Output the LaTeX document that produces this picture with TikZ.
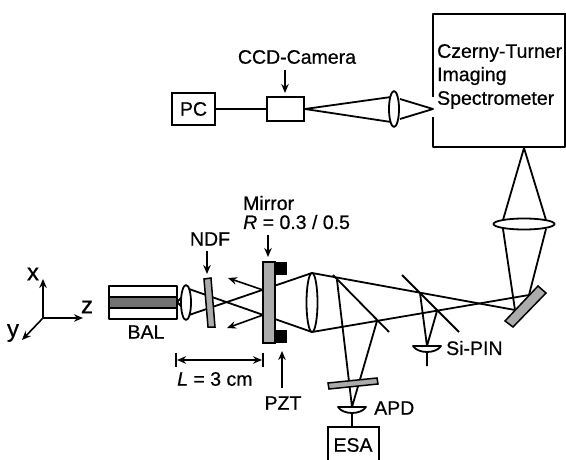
\documentclass[tikz,border=0pt]{standalone}
\usepackage{fontspec}
\setmainfont[RawFeature={embolden=0.6}]{Liberation Sans}
\usetikzlibrary{arrows.meta}
\tikzset{beam/.style={line width=1.8pt,line join=round}}
\tikzset{lens/.style={beam,fill=white}}
\tikzset{plate/.style={line width=1.5pt,fill=black!33}}
\tikzset{pointer/.style={line width=1.6pt,->,>={Stealth[length=9pt,width=7.5pt]}}}
\tikzset{box/.style={draw,line width=1.8pt,inner sep=0pt}}
\tikzset{lbl/.style={inner sep=0pt,font=\fontsize{19.5}{22}\selectfont}}
\tikzset{axlbl/.style={inner sep=0pt,font=\fontsize{24}{26}\selectfont}}

\begin{document}
\begin{tikzpicture}[x=1pt,y=-1pt,line cap=butt]
	\useasboundingbox (0,0) rectangle (566,460);

	% spectrometer, with its entrance slit
	\draw[beam] (433,97) -- (433,14) -- (565,14) -- (565,147) -- (433,147) -- (433,117);
	\draw[line width=2.6pt] (433,14) -- (566,14);
	\node (czerny) [lbl,anchor=west] at (437,53) {Czerny-Turner};
	\node (imaging) [lbl,anchor=west] at (437,76) {Imaging};
	\node (spectro) [lbl,anchor=west] at (437,100) {Spectrometer};

	% camera arm
	\node (pc) [box,minimum width=43pt,minimum height=32pt,lbl] at (193.5,109) {PC};
	\node (ccd) [box,minimum width=37pt,minimum height=24pt] at (285.5,109) {};
	\node (ccdlabel) [lbl] at (297,57) {CCD-Camera};
	\draw[beam] (pc) -- (ccd);
	\draw[pointer] (285,70) -- (285,93);
	\draw[beam] (391,97) -- (ccd.east) -- (391,122);
	\draw[beam] (400,99) -- (433,109) -- (400,119);
	\draw[lens] (394,109) ellipse (5 and 18);

	% lens under the spectrometer and the turning mirror
	\draw[beam] (503,220) -- (524,148) -- (546,220);
	\draw[lens] (524,224) ellipse (30.5 and 5.5);
	\draw[beam] (503,229) -- (515,310);
	\draw[beam] (546,229) -- (529,295);
	\draw[plate] (505,321) -- (513,327) -- (546,293) -- (538,286) -- cycle;

	% main beam
	\draw[beam] (189,315) -- (312,273) -- (515,310);
	\draw[beam] (189,289) -- (312,332) -- (529,295);
	\draw[lens] (312,302.5) ellipse (5.5 and 29.5);

	% splitters and detectors
	\draw[beam] (333,275) -- (389,332);
	\draw[beam] (402,275) -- (459,332);
	\draw[beam] (337,280) -- (352,407) -- (377,321);
	\draw[beam] (420,293) -- (427,346) -- (437,311);
	\draw[plate] (328,383) -- (377,378) -- (378,384) -- (329,389) -- cycle;
	\foreach \x/\y/\z in {427/346/366,352/407/427}
		\draw[beam] (\x-14,\y) -- (\x+14,\y) .. controls (\x+9,\y+8) and (\x-9,\y+8) .. cycle
			(\x,\y+6) -- (\x,\z);
	\node (sipin) [lbl,anchor=west] at (446,348) {Si-PIN};
	\node (apd) [lbl,anchor=west] at (374,408) {APD};
	\draw[box] (328,460) -- (328,427) -- (379,427) -- (379,460);
	\node (esa) [lbl] at (353,445) {ESA};

	% reflected beams
	\draw[pointer] (263,290) -- (228,278);
	\draw[pointer] (263,315) -- (227,328);

	% cavity mirror
	\draw[plate] (263,262) rectangle (275,343);
	\fill (275,262) rectangle (287,275);
	\fill (275,330) rectangle (287,343);
	\node (mirror) [lbl,anchor=west] at (243,203) {Mirror};
	\node (refl) [lbl,anchor=west] at (243,222) {\textit{R} = 0.3 / 0.5};
	\draw[pointer] (268,235) -- (268,257);
	\draw[pointer] (282,388) -- (282,351);
	\node (pzt) [lbl] at (283,403) {PZT};

	% filter
	\draw[plate] (204,279) -- (211,278) -- (215,327) -- (208,327) -- cycle;
	\node (ndf) [lbl] at (210,239) {NDF};
	\draw[pointer] (207,251) -- (207,274);

	% array
	\draw[beam] (109,286) rectangle (177,319);
	\draw[beam,fill=black!55] (109,297) rectangle (177,308);
	\node (bal) [lbl] at (146,332) {BAL};
	\draw[beam] (183,296) -- (177,302) -- (183,308);
	\draw[lens] (186,302.5) ellipse (5 and 17.5);

	% separation
	\draw[beam] (176,353) -- (176,367);
	\draw[beam] (263,353) -- (263,367);
	\draw[pointer,<->] (177,360) -- (262,360);
	\node (sep) [lbl,anchor=west] at (177,379) {\textit{L} = 3 cm};

	% axes
	\coordinate (origin) at (43,318);
	\draw[pointer] (origin) -- (43,279);
	\draw[pointer] (origin) -- (83,318);
	\draw[pointer] (origin) -- (22,340);
	\node (xlabel) [axlbl] at (33,274) {x};
	\node (zlabel) [axlbl] at (87,307) {z};
	\node (ylabel) [axlbl] at (13,333) {y};
\end{tikzpicture}
\end{document}
